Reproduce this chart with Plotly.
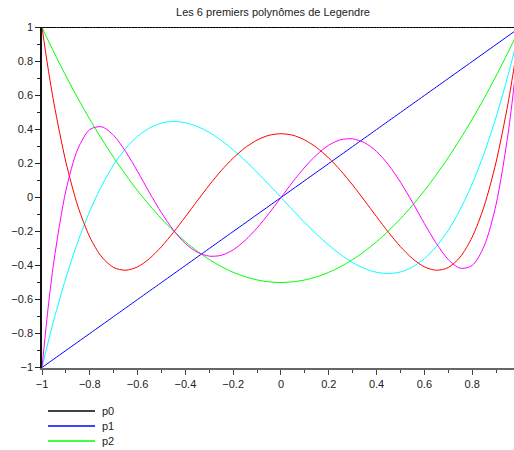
import plotly.graph_objects as go

# sample abscissae
x_pos = [0.0, 0.05, 0.1, 0.15, 0.2, 0.25, 0.3, 0.35, 0.4, 0.45, 0.5, 0.55, 0.6,
         0.65, 0.7, 0.75, 0.8, 0.85, 0.9, 0.95, 0.975, 1.0]
x_vals = [-v for v in reversed(x_pos[1:])] + x_pos

# values on the right half (x >= 0)
p2_pos = [-0.5, -0.496, -0.485, -0.466, -0.44, -0.406, -0.365, -0.316, -0.26, -0.196,
          -0.125, -0.046, 0.04, 0.134, 0.235, 0.344, 0.46, 0.584, 0.715, 0.854, 0.926, 1.0]
p3_pos = [0.0, -0.075, -0.148, -0.217, -0.28, -0.336, -0.383, -0.418, -0.44, -0.447,
          -0.438, -0.409, -0.36, -0.288, -0.193, -0.07, 0.08, 0.26, 0.473, 0.718, 0.855, 1.0]
p4_pos = [0.375, 0.366, 0.338, 0.293, 0.232, 0.158, 0.073, -0.019, -0.113, -0.205,
          -0.289, -0.359, -0.408, -0.428, -0.412, -0.35, -0.233, -0.051, 0.208, 0.554, 0.764, 1.0]
p5_pos = [0.0, 0.093, 0.179, 0.252, 0.308, 0.34, 0.345, 0.322, 0.271, 0.192,
          0.09, -0.028, -0.153, -0.27, -0.365, -0.416, -0.4, -0.286, -0.041, 0.373, 0.657, 1.0]

def full(pos, parity):
    s = 1 if parity == 0 else -1
    return [s * v for v in reversed(pos[1:])] + pos

p0 = [1.0] * len(x_vals)
p1 = list(x_vals)
p2 = full(p2_pos, 0)
p3 = full(p3_pos, 1)
p4 = full(p4_pos, 0)
p5 = full(p5_pos, 1)

names = ["p0", "p1", "p2", "p3", "p4", "p5"]
series = [p0, p1, p2, p3, p4, p5]
colors = ["#000000", "#0000ff", "#00ff00", "#00ffff", "#ff0000", "#ff00ff"]
n_legend_visible = 3  # only the first legend rows fit in the picture

fig = go.Figure()
for n, ys, c in zip(names, series, colors):
    fig.add_trace(go.Scatter(x=x_vals, y=ys, mode="lines", name=n,
                             line=dict(color=c, width=1, shape="spline", smoothing=0.8),
                             showlegend=False))

# plot-area geometry (pixels)
L, T, W, H = 42, 27, 472, 341

def px_x(px):
    return (px - L) / W

def px_y(py):
    return (T + H - py) / H

# legend drawn below the axes, Scilab-style
shapes, annos = [], []
for i in range(n_legend_visible):
    yy = px_y(411 + 15 * i)
    shapes.append(dict(type="line", xref="paper", yref="paper",
                       x0=px_x(48), x1=px_x(95), y0=yy, y1=yy,
                       line=dict(color=colors[i], width=1.3)))
    annos.append(dict(text=names[i], xref="paper", yref="paper", x=px_x(100), y=yy,
                      xanchor="left", yanchor="middle", showarrow=False,
                      font=dict(size=11, color="#222")))

font = "Liberation Sans, Arial, Helvetica, sans-serif"
fig.update_layout(
    width=514, height=450,
    margin=dict(l=L, r=514 - L - W, t=T, b=450 - T - H, autoexpand=False),
    paper_bgcolor="white", plot_bgcolor="white",
    font=dict(family=font, size=11, color="#222"),
    showlegend=False,
    shapes=shapes, annotations=annos,
    title=dict(text="Les 6 premiers polynômes de Legendre", x=273/514, xanchor="center",
               y=1 - 12/450, yanchor="middle", font=dict(size=11, color="#222")),
    xaxis=dict(range=[-1, 0.975], showgrid=False, zeroline=False,
               showline=True, linecolor="#666", linewidth=1.5,
               ticks="outside", ticklen=5, tickwidth=1, tickcolor="#444",
               tick0=-1, dtick=0.2, tickfont=dict(size=11, color="#222"),
               minor=dict(ticks="outside", ticklen=3, dtick=0.1, tick0=-1, tickcolor="#444", showgrid=False)),
    yaxis=dict(range=[-1.003, 1.003], showgrid=False, zeroline=False,
               showline=True, linecolor="#111", linewidth=1.5,
               ticks="outside", ticklen=5, tickwidth=1, tickcolor="#222",
               tick0=-1, dtick=0.2, tickfont=dict(size=11, color="#222"),
               minor=dict(ticks="outside", ticklen=3, dtick=0.1, tick0=-1, tickcolor="#222", showgrid=False)),
)

fig.write_html("out.html")
